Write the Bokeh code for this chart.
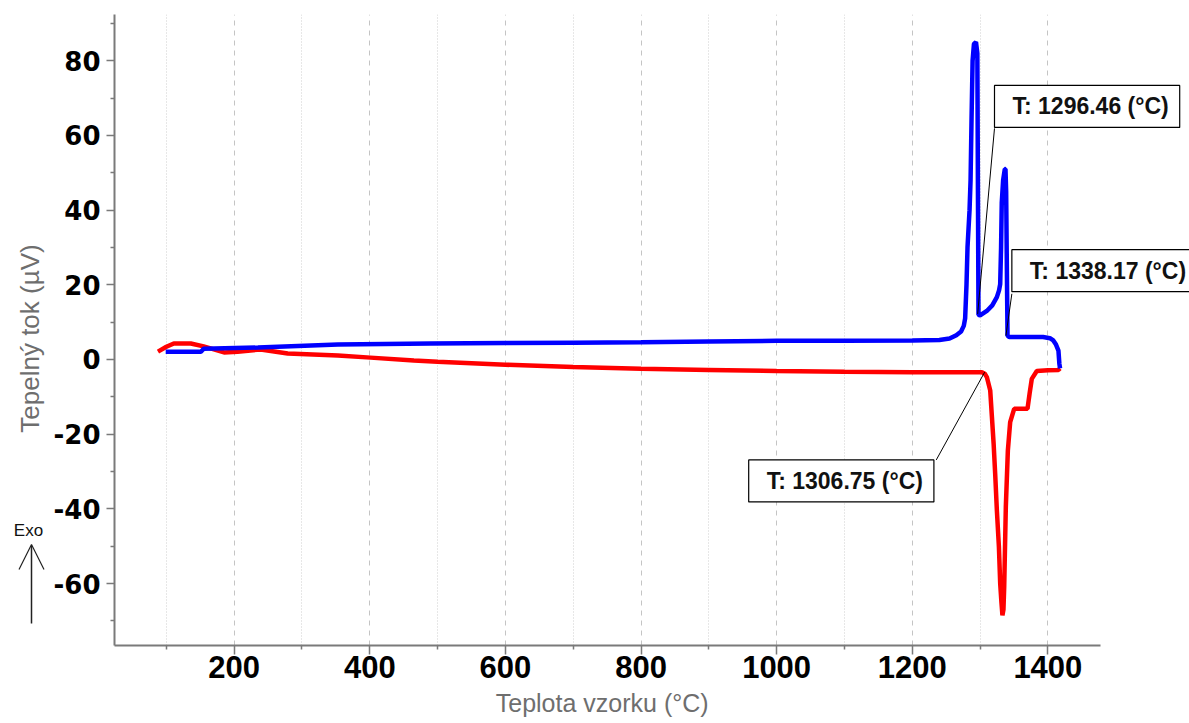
from math import pi

from bokeh.plotting import figure
from bokeh.layouts import row
from bokeh.models import (Range1d, Label, Arrow, OpenHead, FixedTicker, Title,
                          PrintfTickFormatter)
from bokeh.embed import file_html
from bokeh.resources import INLINE

# --- DTA data: sample temperature (°C) vs. heat flow (µV) ---
heating_t = [87.6, 100, 111, 136, 155, 185, 205, 239, 279, 353, 401, 465, 500,
             600, 700, 800, 900, 1000, 1100, 1200, 1302.7, 1307, 1310, 1315,
             1317.5, 1320, 1322.3, 1324.8, 1327.8, 1329.7, 1331.5, 1333, 1334.5,
             1335.6, 1338, 1341, 1344.4, 1350.3, 1360, 1370, 1373, 1376.3,
             1383.7, 1400, 1415.6, 1418]
heating_v = [2.1, 3.4, 4.3, 4.3, 3.5, 1.9, 2.1, 2.7, 1.6, 1.1, 0.5, -0.3, -0.6,
             -1.4, -2.0, -2.5, -2.8, -3.1, -3.3, -3.4, -3.4, -3.8, -4.7, -8.3,
             -15.4, -22.5, -30.6, -40.4, -50.2, -60.0, -65.0, -68.5, -67.0,
             -61.0, -39.5, -24.4, -16.8, -13.2, -13.2, -13.2, -9.2, -5.2,
             -3.1, -2.9, -2.8, -2.4]

cooling_t = [99, 151, 155, 235, 353, 490, 600, 700, 800, 900, 1000, 1100, 1200,
             1240, 1255, 1265, 1272, 1276, 1278, 1280, 1281.5, 1284.5, 1286,
             1287.5, 1289, 1291, 1294, 1296, 1297, 1297.7, 1300, 1310, 1318,
             1324.8, 1328, 1329.7, 1331, 1332, 1334, 1336.5, 1337.5, 1338.5,
             1339.5, 1340.5, 1343, 1370, 1393, 1403, 1408, 1412, 1415.6, 1417,
             1418]
cooling_v = [2.1, 2.1, 2.9, 3.2, 4.0, 4.3, 4.4, 4.5, 4.6, 4.8, 5.0, 5.0, 5.1,
             5.2, 5.6, 6.5, 7.5, 9.0, 11.0, 20.0, 30.0, 40.0, 48.0, 65.0, 80.0,
             84.5, 85.0, 82.0, 40.0, 12.0, 11.8, 13.0, 14.5, 16.7, 18.5, 20.2,
             30.0, 42.0, 48.0, 51.0, 51.0, 45.0, 25.0, 6.4, 6.0, 6.0, 6.0, 5.7,
             5.1, 4.0, 2.4, -1.2, -2.4]

# Marked transition temperatures and the heat flow at each point
marker_t = [1296.46, 1338.17, 1306.75]
marker_v = [12.2, 6.4, -3.4]
marker_text = ["T: 1296.46 (°C)", "T: 1338.17 (°C)", "T: 1306.75 (°C)"]

# Callout boxes: top-left corner (data coords) and where the leader meets the box
box_x = [1321.3, 1346.9, 958.8]
box_y = [73.4, 29.4, -26.9]
lead_x = [1321.3, 1346.9, 1235.4]
lead_y = [61.9, 17.6, -26.9]

x_ticks = [200, 400, 600, 800, 1000, 1200, 1400]
x_minor = [100, 300, 500, 700, 900, 1100, 1300]
y_ticks = [-60, -40, -20, 0, 20, 40, 60, 80]
y_minor = [-70, -50, -30, -10, 10, 30, 50, 70, 90]

X_LO, X_AXIS_HI = 23.5, 1477
PX_PER_DEG = 0.6787
LEFT_W, HEIGHT = 50, 723
MAIN_W = 1189 - LEFT_W
BORDER_L, BORDER_T, BORDER_B = 63, 14, 78
frame_w = MAIN_W - BORDER_L

axis_grey = "#7a7a7a"
title_grey = "#6e6e6e"

# ---- strip on the left: value-axis title and the Exo direction arrow ----
# (its frame is aligned with the main frame, so the y range is given in
#  canvas pixels counted up from the bottom of the page)
side = figure(width=LEFT_W, height=HEIGHT, output_backend="svg",
              toolbar_location=None, x_axis_type=None, y_axis_type=None,
              x_range=Range1d(0, LEFT_W),
              y_range=Range1d(BORDER_B, HEIGHT - BORDER_T),
              min_border=0)
side.outline_line_color = None
side.grid.visible = False
side.add_layout(Label(x=29, y=HEIGHT - 338, text="Tepelný tok (µV)", angle=pi / 2,
                      text_align="center", text_baseline="middle",
                      text_font="Liberation Sans", text_font_size="26px",
                      text_color=title_grey))
side.add_layout(Label(x=28, y=HEIGHT - 530, text="Exo", text_align="center",
                      text_baseline="middle", text_font="Liberation Sans",
                      text_font_size="17px", text_color="#111111"))
side.add_layout(Arrow(end=OpenHead(size=25, line_width=1.2, line_color="#222222"),
                      x_start=31, y_start=HEIGHT - 623, x_end=31,
                      y_end=HEIGHT - 544, line_color="#222222", line_width=1.5))

# ---- main DTA plot ----
p = figure(width=MAIN_W, height=HEIGHT, output_backend="svg",
           toolbar_location=None,
           x_range=Range1d(X_LO, X_LO + frame_w / PX_PER_DEG),
           y_range=Range1d(-76.6, 92.4),
           min_border_left=BORDER_L, min_border_right=0,
           min_border_top=BORDER_T, min_border_bottom=BORDER_B)
p.outline_line_color = None
p.background_fill_color = "white"
p.border_fill_color = "white"

for ax in (p.xaxis[0], p.yaxis[0]):
    ax.axis_line_color = axis_grey
    ax.axis_line_width = 2
    ax.major_tick_line_color = axis_grey
    ax.major_tick_line_width = 1.5
    ax.minor_tick_line_color = axis_grey
    ax.minor_tick_line_width = 1.5
    ax.major_tick_in = 0
    ax.minor_tick_in = 0
    ax.major_label_text_color = "black"

p.xaxis.bounds = (X_LO, X_AXIS_HI)
p.xaxis.ticker = FixedTicker(ticks=x_ticks, minor_ticks=x_minor)
p.xaxis.major_tick_out = 9
p.xaxis.minor_tick_out = 4
p.xaxis.major_label_text_font = "Liberation Sans"
p.xaxis.major_label_text_font_style = "bold"
p.xaxis.major_label_text_font_size = "31px"
p.xaxis.major_label_standoff = 1

p.yaxis.ticker = FixedTicker(ticks=y_ticks, minor_ticks=y_minor)
p.yaxis.formatter = PrintfTickFormatter(format="%d")
p.yaxis.major_tick_out = 8
p.yaxis.minor_tick_out = 4
p.yaxis.major_label_text_font = "DejaVu Sans"
p.yaxis.major_label_text_font_style = "bold"
p.yaxis.major_label_text_font_size = "26px"
p.yaxis.major_label_standoff = 6

# temperature-axis title, centred under the drawn axis line
p.add_layout(Title(text="Teplota vzorku (°C)", align="left",
                   offset=(X_AXIS_HI - X_LO) * PX_PER_DEG / 2 - 112,
                   text_font="Liberation Sans", text_font_style="normal",
                   text_font_size="25px", text_color=title_grey,
                   standoff=13), "below")

p.ygrid.grid_line_color = None
p.xgrid.grid_line_color = "#c4c4c4"
p.xgrid.grid_line_dash = "5 5"
p.xgrid.grid_line_width = 1
p.xgrid.minor_grid_line_color = "#cfcfcf"
p.xgrid.minor_grid_line_dash = "1 2"

# Curves
p.line(heating_t, heating_v, line_color="#ff0000", line_width=4.5)
p.line(cooling_t, cooling_v, line_color="#0000ff", line_width=4.5)

# Leader lines from the curve points to the callout boxes
p.segment(x0=marker_t, y0=marker_v, x1=lead_x, y1=lead_y,
          line_color="black", line_width=1)

for bx, by, txt in zip(box_x, box_y, marker_text):
    p.add_layout(Label(x=bx, y=by, text=txt, anchor="top_left",
                       padding=dict(left=18, right=11, top=8, bottom=8),
                       border_line_color="black", border_line_width=1.2,
                       background_fill_color="white",
                       text_font="Liberation Sans", text_font_style="bold",
                       text_font_size="23px", text_color="#111111"))

layout = row(side, p, spacing=0)
open("out.html", "w").write(file_html(layout, INLINE))
